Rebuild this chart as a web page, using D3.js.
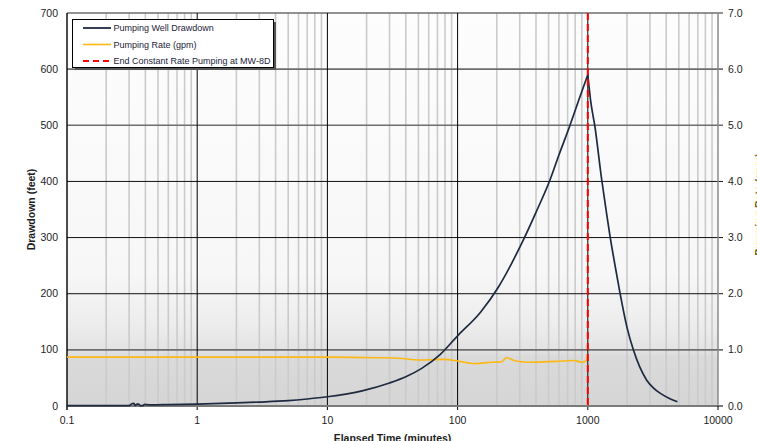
<!DOCTYPE html>
<html>
<head>
<meta charset="utf-8">
<script src="https://cdn.jsdelivr.net/npm/d3@7"></script>
<style>
  html, body { margin: 0; padding: 0; background: #ffffff; }
  svg { display: block; font-family: "Liberation Sans", Arial, sans-serif; }
</style>
</head>
<body>
<svg id="chart" width="757" height="441"></svg>
<script>
// Drawdown record (elapsed minutes, feet)
const drawdownTime = [0.1, 0.2, 0.3, 0.315, 0.325, 0.335, 0.345, 0.355, 0.365, 0.38, 0.395, 0.41, 0.45, 0.6,
  1, 2, 3, 5, 7, 10, 18.5, 30, 40, 53, 73, 100, 150, 206, 320, 400, 513, 600, 730, 850, 1000,
  1050, 1135, 1279, 1380, 1482, 1620, 1768, 2000, 2238, 2500, 2834, 3200, 3587, 4200, 4820];
const drawdownFeet = [0.5, 0.5, 0.6, 4, 4.5, 1, 3.5, 3.5, 0.5, 0.5, 3, 2.5, 2, 2.5,
  3.5, 5.5, 7, 9.5, 12.5, 16.5, 27, 41, 52, 67, 91, 125, 167, 212, 296, 345, 403, 447, 500, 544, 590,
  545, 497, 403, 350, 302, 250, 201, 140, 100, 70, 46, 32, 23, 14, 8];

// Pumping rate record (elapsed minutes, gpm)
const rateTime = [0.1, 1, 10, 24, 35, 51, 77.5, 101, 136, 184, 217, 237, 280, 340, 580, 770, 913, 980, 1000];
const rateGpm = [0.87, 0.87, 0.87, 0.86, 0.85, 0.82, 0.83, 0.80, 0.755, 0.78, 0.785, 0.86, 0.80, 0.78, 0.795, 0.81, 0.78, 0.82, 0.93];

// End of constant rate pumping (minutes)
const pumpEnd = [1000];

// Axis ticks
const xTicks = [0.1, 1, 10, 100, 1000, 10000];
const xTickLabels = ["0.1", "1", "10", "100", "1000", "10000"];
const yTicks = [0, 100, 200, 300, 400, 500, 600, 700];
const yRightTicks = [0, 1, 2, 3, 4, 5, 6, 7];

const legendItems = ["Pumping Well Drawdown", "Pumping Rate (gpm)", "End Constant Rate Pumping at MW-8D"];

const svg = d3.select("#chart");
const L = 67, R = 718, T = 13, B = 406;

const x = d3.scaleLog().domain([0.1, 10000]).range([L, R]);
const y = d3.scaleLinear().domain([0, 700]).range([B, T]);
const y2 = d3.scaleLinear().domain([0, 7]).range([B, T]);

// Plot background: light at top, shading to grey near the bottom
const defs = svg.append("defs");
const grad = defs.append("linearGradient").attr("id", "bg").attr("x1", 0).attr("y1", 0).attr("x2", 0).attr("y2", 1);
[[0, "#fdfdfd"], [0.66, "#f7f7f7"], [0.80, "#ececec"], [0.86, "#e2e2e2"], [0.875, "#dadada"], [1, "#d5d5d5"]]
  .forEach(([o, c]) => grad.append("stop").attr("offset", o).attr("stop-color", c));
svg.append("rect").attr("x", L).attr("y", T).attr("width", R - L).attr("height", B - T).attr("fill", "url(#bg)");

// Minor vertical gridlines (2..9 within each decade)
const minor = [];
for (let d = 0.1; d < 10000; d *= 10) for (let k = 2; k <= 9; k++) minor.push(+(d * k).toPrecision(6));
svg.append("g").selectAll("line").data(minor).join("line")
  .attr("x1", d => x(d)).attr("x2", d => x(d)).attr("y1", T).attr("y2", B)
  .attr("stroke", "#cbcbcb").attr("stroke-width", 1.6);

// Horizontal gridlines
const hColor = v => (v >= 200 && v <= 400) ? "#111111" : "#6e6e6e";
svg.append("g").selectAll("line").data(yTicks.filter(v => v > 0)).join("line")
  .attr("x1", L).attr("x2", R + 5).attr("y1", d => y(d)).attr("y2", d => y(d))
  .attr("stroke", d => hColor(d)).attr("stroke-width", d => hColor(d) === "#111111" ? 1 : 1.6);

// Decade vertical gridlines
svg.append("g").selectAll("line").data(xTicks.slice(1, -1)).join("line")
  .attr("x1", d => x(d)).attr("x2", d => x(d)).attr("y1", T).attr("y2", B + 4)
  .attr("stroke", "#000").attr("stroke-width", 1);

// Frame: right edge and bottom axis
svg.append("line").attr("x1", R).attr("x2", R).attr("y1", T).attr("y2", B)
  .attr("stroke", "#8a8a8a").attr("stroke-width", 1.5);
svg.append("line").attr("x1", L).attr("x2", R + 5).attr("y1", B).attr("y2", B)
  .attr("stroke", "#7a7a7a").attr("stroke-width", 2);
svg.append("line").attr("x1", L).attr("x2", L).attr("y1", T).attr("y2", B + 4)
  .attr("stroke", "#000").attr("stroke-width", 1.4);
svg.append("line").attr("x1", R).attr("x2", R).attr("y1", B).attr("y2", B + 4)
  .attr("stroke", "#000").attr("stroke-width", 1);

// Tick labels
const labelColor = "#1d1d22";
svg.append("g").selectAll("text").data(yTicks).join("text")
  .attr("x", 58).attr("y", d => y(d) + 3.5).attr("text-anchor", "end")
  .attr("font-size", 10.5).attr("fill", labelColor).text(d => d);
svg.append("g").selectAll("text").data(yRightTicks).join("text")
  .attr("x", 728).attr("y", d => y2(d) + 3.5).attr("text-anchor", "start")
  .attr("font-size", 10.5).attr("fill", labelColor).text(d => d.toFixed(1));
svg.append("g").selectAll("text").data(xTicks).join("text")
  .attr("x", d => x(d)).attr("y", 424).attr("text-anchor", "middle")
  .attr("font-size", 10.5).attr("fill", labelColor).text((d, i) => xTickLabels[i]);

// Axis titles
svg.append("text").attr("transform", `translate(35,${(T + B) / 2}) rotate(-90)`)
  .attr("text-anchor", "middle").attr("font-size", 10.5).attr("font-weight", "bold")
  .attr("fill", labelColor).text("Drawdown (feet)");
svg.append("text").attr("x", (L + R) / 2).attr("y", 441.5)
  .attr("text-anchor", "middle").attr("font-size", 10.5).attr("font-weight", "bold")
  .attr("fill", labelColor).text("Elapsed Time (minutes)");
svg.append("text").attr("transform", `translate(763,${(T + B) / 2 - 5}) rotate(-90)`)
  .attr("text-anchor", "middle").attr("font-size", 10.5).attr("font-weight", "bold")
  .attr("fill", "#6b5a1e").text("Pumping Rate (gpm)");

// Pumping rate series (right axis)
const rateLine = d3.line().x((d, i) => x(rateTime[i])).y(d => y2(d)).curve(d3.curveMonotoneX);
svg.append("path").datum(rateGpm).attr("d", rateLine)
  .attr("fill", "none").attr("stroke", "#fcb814").attr("stroke-width", 1.6);

// Drawdown series (left axis): smoothed on each side of the pumping stop so the peak stays sharp
const ddPoints = drawdownTime.map((t, i) => [t, drawdownFeet[i]]);
const stopIdx = drawdownTime.indexOf(pumpEnd[0]);
const ddLine = d3.line().x(d => x(d[0])).y(d => y(d[1])).curve(d3.curveMonotoneX);
[ddPoints.slice(0, stopIdx + 1), ddPoints.slice(stopIdx)].forEach(seg => {
  svg.append("path").datum(seg).attr("d", ddLine)
    .attr("fill", "none").attr("stroke", "#1e2a40").attr("stroke-width", 1.7)
    .attr("stroke-linejoin", "round").attr("stroke-linecap", "round");
});

// End of constant-rate pumping marker
svg.append("g").selectAll("line").data(pumpEnd).join("line")
  .attr("x1", d => x(d)).attr("x2", d => x(d)).attr("y1", T).attr("y2", B)
  .attr("stroke", "#ff0000").attr("stroke-width", 2).attr("stroke-dasharray", "7,4");

// Legend with drop shadow
const lg = svg.append("g");
lg.append("rect").attr("x", 75).attr("y", 22).attr("width", 201).attr("height", 48).attr("fill", "#555");
lg.append("rect").attr("x", 72.5).attr("y", 19.5).attr("width", 201).attr("height", 48)
  .attr("fill", "#fff").attr("stroke", "#000").attr("stroke-width", 1);
const legendStyle = [
  { stroke: "#1e2a40", dash: null, w: 1.8 },
  { stroke: "#fcb814", dash: null, w: 1.6 },
  { stroke: "#ff0000", dash: "6,4", w: 2 }
];
legendItems.forEach((t, i) => {
  const cy = 28 + i * 16.5;
  lg.append("line").attr("x1", 83).attr("x2", 111).attr("y1", cy).attr("y2", cy)
    .attr("stroke", legendStyle[i].stroke).attr("stroke-width", legendStyle[i].w)
    .attr("stroke-dasharray", legendStyle[i].dash);
  lg.append("text").attr("x", 113.5).attr("y", cy + 3).attr("font-size", 9)
    .attr("fill", "#1d1d3a").text(t);
});
</script>
</body>
</html>
